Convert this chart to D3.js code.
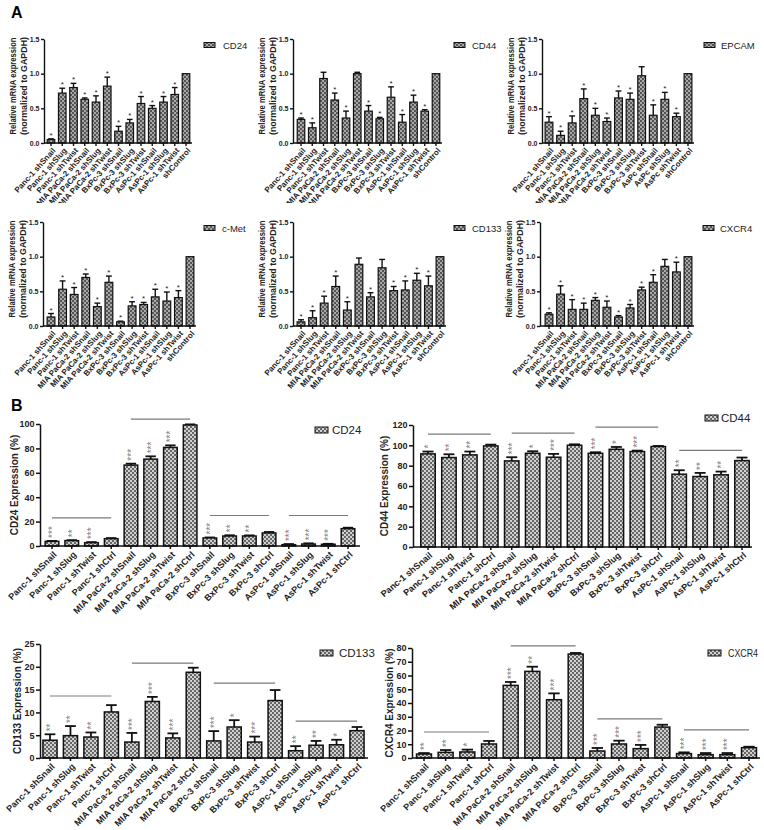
<!DOCTYPE html>
<html><head><meta charset="utf-8">
<script src="https://cdn.jsdelivr.net/npm/d3@7"></script>
<style>body{margin:0;background:#fff} svg{display:block}</style>
</head><body>
<svg id="c" width="764" height="830"></svg>
<script>
// ---------- DATA ----------
const labelsA = ["Panc-1 shSnail","Panc-1 shSlug","Panc-1 shTwist","MIA PaCa-2 shSnail","MIA PaCa-2 shSlug","MIA PaCa-2 shTwist","BxPc-3 shSnail","BxPc-3 shSlug","BxPc-3 shTwist","AsPc-1 shSnail","AsPc-1 shSlug","AsPc-1 shTwist","shControl"];
const labelsEpcam = ["Panc-1 shSnail","Panc-1 shSlug","Panc-1 shTwist","MIA PaCa-2 shSnail","MIA PaCa-2 shSlug","MIA PaCa-2 shTwist","BxPc-3 shSnail","BxPc-3 shSlug","BxPc-3 shTwist","AsPc shSnail","AsPc shSlug","AsPc shTwist","shControl"];
const ticksA = [0, 0.5, 1.0, 1.5];

const cd24A = [0.05,0.72,0.80,0.63,0.59,0.82,0.17,0.29,0.57,0.50,0.59,0.70,1.0];
const cd24ASd = [0.01,0.07,0.06,0.02,0.09,0.13,0.07,0.05,0.10,0.04,0.08,0.10,0];
const cd24AStar = ["*","*","*","*","*","*","*","*","*","*","*","*",""];

const cd44A = [0.34,0.22,0.93,0.62,0.36,1.0,0.46,0.35,0.66,0.30,0.59,0.46,1.0];
const cd44ASd = [0.02,0.07,0.09,0.10,0.10,0.02,0.08,0.02,0.15,0.11,0.10,0.02,0];
const cd44AStar = ["*","*","","*","*","","*","*","*","*","*","*",""];

const epcamA = [0.30,0.11,0.29,0.64,0.40,0.31,0.65,0.63,0.97,0.40,0.63,0.38,1.0];
const epcamASd = [0.08,0.06,0.10,0.14,0.10,0.05,0.10,0.09,0.13,0.15,0.10,0.05,0];
const epcamAStar = ["*","*","*","*","*","*","*","*","","*","*","*",""];

const cmetA = [0.13,0.53,0.455,0.70,0.28,0.63,0.06,0.29,0.31,0.42,0.36,0.41,1.0];
const cmetASd = [0.05,0.12,0.10,0.05,0.05,0.09,0.01,0.06,0.03,0.11,0.13,0.10,0];
const cmetAStar = ["*","*","*","*","*","*","*","*","*","*","*","*",""];

const cd133A = [0.06,0.12,0.33,0.57,0.23,0.89,0.42,0.84,0.51,0.52,0.66,0.58,1.0];
const cd133ASd = [0.03,0.10,0.10,0.15,0.12,0.09,0.06,0.12,0.06,0.13,0.10,0.14,0];
const cd133AStar = ["*","*","*","*","*","","*","","*","*","*","*",""];

const cxcr4A = [0.17,0.46,0.24,0.24,0.37,0.27,0.13,0.26,0.52,0.63,0.86,0.78,1.0];
const cxcr4ASd = [0.02,0.12,0.14,0.09,0.04,0.09,0.02,0.05,0.04,0.11,0.10,0.14,0];
const cxcr4AStar = ["*","*","*","*","*","*","*","*","*","*","","*",""];

const labelsB = ["Panc-1 shSnail","Panc-1 shSlug","Panc-1 shTwist","Panc-1 shCtrl","MIA PaCa-2 shSnail","MIA PaCa-2 shSlug","MIA PaCa-2 shTwist","MIA PaCa-2 shCtrl","BxPc-3 shSnail","BxPc-3 shSlug","BxPc-3 shTwist","BxPc-3 shCtrl","AsPc-1 shSnail","AsPc-1 shSlug","AsPc-1 shTwist","AsPc-1 shCtrl"];

const cd24B = [3.8,4.4,2.7,6.0,66.3,71.2,80.8,99.2,6.6,8.2,8.2,10.7,1.1,1.6,1.4,14.2];
const cd24BSd = [0.4,0.4,0.5,0.5,1.2,2.3,1.7,0.5,0.4,0.6,0.5,0.8,0.5,0.6,0.4,0.8];
const cd24BStar = ["***","**","***","","***","***","***","","***","**","**","","***","***","***",""];
const cd24BSig = [23,104,25,25];

const cd44B = [91.6,88,90.6,99.4,84.7,92.2,88.3,100.1,92.2,96.1,93.9,98.8,71.6,69.3,71,85];
const cd44BSd = [2.3,3.2,3.3,1.3,3.6,2.0,3.3,0.9,1.0,2.3,0.9,0.6,3.9,3.6,3.2,3.0];
const cd44BStar = ["*","**","**","","***","*","***","","***","*","***","","**","**","**",""];
const cd44BSig = [111,112,118,95];

const cd133B = [3.9,4.9,4.6,10.1,3.5,12.4,4.4,18.8,3.75,6.8,3.5,12.6,1.6,2.8,2.9,6.0];
const cd133BSd = [1.3,2.1,1.0,1.5,2.0,1.0,1.0,1.0,2.15,1.5,1.2,2.3,1.0,0.95,1.1,0.8];
const cd133BStar = ["**","**","**","","***","***","***","","***","*","***","","**","**","*",""];
const cd133BSig = [13.6,20.8,16.4,8.1];

const cxcr4B = [2.9,4.1,4.4,10.2,52.8,63,42.4,75.6,5.1,10.2,6.8,22.5,3.2,2.4,2.4,7.5];
const cxcr4BSd = [0.7,1.7,1.7,2.2,2.5,3.4,4.6,0.8,2.2,2.4,2.7,1.7,0.9,1.2,1.2,0.7];
const cxcr4BStar = ["**","**","*","","***","**","***","","***","***","***","","***","***","***",""];
const cxcr4BSig = [18.9,81.5,28.4,20.4];

// ---------- DRAWING ----------
const FONT = "'Liberation Sans', Arial, Helvetica, sans-serif";
const svg = d3.select("#c");
const defs = svg.append("defs");
function pattern(id, dark, light) {
  const p = defs.append("pattern").attr("id", id).attr("width", 4).attr("height", 4).attr("patternUnits", "userSpaceOnUse");
  p.append("rect").attr("width", 4).attr("height", 4).attr("fill", light);
  p.append("rect").attr("width", 2).attr("height", 2).attr("fill", dark);
  p.append("rect").attr("x", 2).attr("y", 2).attr("width", 2).attr("height", 2).attr("fill", dark);
}
pattern("pA", "#555", "#a8a8a8");
pattern("pB", "#666", "#d0d0d0");

let clipN = 0;
function drawChart(c) {
  let g = svg.append("g").attr("font-family", FONT);
  if (c.clipBottom) {
    const id = "clip" + (clipN++);
    defs.append("clipPath").attr("id", id).append("rect").attr("x", c.clipLeft).attr("y", c.clipTop).attr("width", c.clipW).attr("height", c.clipBottom - c.clipTop);
    g.attr("clip-path", `url(#${id})`);
  }
  const n = c.labels.length;
  const step = (c.last - c.first) / (n - 1);
  const x = d3.scaleBand().domain(c.labels).range([c.first - step / 2, c.last + step / 2]).paddingInner(c.pad).paddingOuter(c.pad / 2);
  const y = d3.scaleLinear().domain([0, c.max]).range([c.base, c.top]);
  const bw = x.bandwidth();

  if (c.sig) {
    c.sig.forEach((v, k) => {
      g.append("line").attr("x1", x(c.labels[k * 4]) + bw / 2).attr("x2", x(c.labels[k * 4 + 3]) + bw / 2)
        .attr("y1", y(v)).attr("y2", y(v)).attr("stroke", "#7a7a7a").attr("stroke-width", 1.2);
    });
  }

  const eb = g.append("g").attr("stroke", "#111").attr("stroke-width", c.ebStroke);
  c.labels.forEach((d, i) => {
    if (!c.sd[i]) return;
    const cx = x(d) + bw / 2;
    const yt = y(c.mean[i] + c.sd[i]);
    eb.append("line").attr("x1", cx).attr("x2", cx).attr("y1", y(c.mean[i])).attr("y2", yt);
    eb.append("line").attr("x1", cx - bw * 0.38).attr("x2", cx + bw * 0.38).attr("y1", yt).attr("y2", yt);
  });

  g.append("g").selectAll("rect").data(c.labels).join("rect")
    .attr("x", d => x(d)).attr("y", (d, i) => y(c.mean[i]))
    .attr("width", bw).attr("height", (d, i) => y(0) - y(c.mean[i]))
    .attr("fill", `url(#${c.pattern})`).attr("stroke", "#111").attr("stroke-width", c.barStroke);

  c.labels.forEach((d, i) => {
    if (!c.stars[i]) return;
    const cx = x(d) + bw / 2;
    const yt = y(c.mean[i] + c.sd[i]);
    if (c.starRot) {
      g.append("text").attr("transform", `translate(${cx + 4},${yt - 3}) rotate(-90)`)
        .attr("font-size", 10).attr("fill", "#808080").text(c.stars[i]);
    } else {
      g.append("text").attr("x", cx).attr("y", yt - 1).attr("text-anchor", "middle")
        .attr("font-size", 8).attr("fill", "#222").text(c.stars[i]);
    }
  });

  const ya = d3.axisLeft(y).tickValues(c.ticks).tickFormat(d3.format(c.fmt)).tickSize(c.yTickLen).tickSizeOuter(0);
  const yg = g.append("g").attr("transform", `translate(${c.axisX},0)`).call(ya);
  yg.attr("font-family", FONT);
  yg.select(".domain").attr("stroke", "#111").attr("stroke-width", c.axisStroke);
  yg.selectAll(".tick line").attr("stroke", "#111").attr("stroke-width", c.axisStroke);
  yg.selectAll(".tick text").attr("font-size", c.yTickFont).attr("font-weight", "bold").attr("fill", "#222").attr("x", -c.yTickLen - 1.5);

  const xa = d3.axisBottom(x).tickSize(3).tickSizeOuter(0);
  const xg = g.append("g").attr("transform", `translate(0,${c.base})`).call(xa);
  xg.attr("font-family", FONT);
  xg.select(".domain").remove();
  xg.append("line").attr("x1", c.axisX).attr("x2", c.xEnd).attr("stroke", "#111").attr("stroke-width", c.axisStroke);
  xg.selectAll(".tick line").attr("stroke", "#111").attr("stroke-width", c.axisStroke);
  xg.selectAll(".tick text").attr("x", 0).attr("y", 0).attr("dy", "0.35em")
    .attr("transform", `translate(${c.lblDx},${c.lblDy}) rotate(${-c.angle})`)
    .style("text-anchor", "end").attr("font-size", c.xFont).attr("font-weight", "bold").attr("fill", "#222");

  const yc = (c.top + c.base) / 2 + c.titleDy;
  c.title.forEach((t, k) => {
    const tt = g.append("text").attr("transform", `translate(${c.titleX[k]},${yc}) rotate(-90)`)
      .attr("text-anchor", "middle").attr("dominant-baseline", "central")
      .attr("font-size", c.titleFont).attr("font-weight", "bold").attr("fill", "#222").text(t);
    if (c.titleLen) tt.attr("textLength", c.titleLen[k]).attr("lengthAdjust", "spacingAndGlyphs");
  });

  svg.append("rect").attr("x", c.legX).attr("y", c.legY - c.legH / 2).attr("width", c.legW).attr("height", c.legH)
    .attr("fill", `url(#${c.pattern})`).attr("stroke", "#111").attr("stroke-width", 1);
  const lt = svg.append("text").attr("x", c.legTextX).attr("y", c.legY).attr("dominant-baseline", "central")
    .attr("font-family", FONT).attr("font-size", c.legFont).attr("fill", "#222").text(c.name);
  if (c.legLen) lt.attr("textLength", c.legLen).attr("lengthAdjust", "spacingAndGlyphs");
}

const baseA = {pad: 0.33, max: 1.5, ticks: ticksA, fmt: ".1f", pattern: "pA", barStroke: 1.2, ebStroke: 1.4,
  axisStroke: 1.4, yTickLen: 3, yTickFont: 7, xFont: 8, lblDx: 3, lblDy: 6, angle: 48, starRot: false,
  title: ["Relative mRNA expression", "(normalized to GAPDH)"], titleFont: 8.5, titleLen: [97, 98], titleDy: -5,
  legW: 11, legH: 5, legFont: 9.5};

function colA(axisX, first, last, legX, legTextX) {
  return {axisX, first, last, xEnd: last + 6, legX, legTextX, titleX: [axisX - 31, axisX - 20.5]};
}
const row1 = {top: 39, base: 143, legY: 45, clipBottom: 203, clipTop: 0, clipLeft: 0, clipW: 764};
const row2 = {top: 222, base: 326, legY: 228};

drawChart(Object.assign({}, baseA, row1, colA(44, 51, 186, 204, 223), {name: "CD24", labels: labelsA, mean: cd24A, sd: cd24ASd, stars: cd24AStar}));
drawChart(Object.assign({}, baseA, row1, colA(293, 301, 436, 454, 472), {name: "CD44", labels: labelsA, mean: cd44A, sd: cd44ASd, stars: cd44AStar}));
drawChart(Object.assign({}, baseA, row1, colA(542, 549, 688, 704, 721), {name: "EPCAM", labels: labelsEpcam, mean: epcamA, sd: epcamASd, stars: epcamAStar}));
drawChart(Object.assign({}, baseA, row2, colA(43, 51, 190, 204, 222), {name: "c-Met", labels: labelsA, mean: cmetA, sd: cmetASd, stars: cmetAStar}));
drawChart(Object.assign({}, baseA, row2, colA(293, 301, 440, 454, 472), {name: "CD133", labels: labelsA, mean: cd133A, sd: cd133ASd, stars: cd133AStar}));
drawChart(Object.assign({}, baseA, row2, colA(540, 549, 688, 703, 720), {name: "CXCR4", labels: labelsA, mean: cxcr4A, sd: cxcr4ASd, stars: cxcr4AStar}));

const baseB = {pad: 0.31, fmt: "d", pattern: "pB", barStroke: 1.5, ebStroke: 1.8, axisStroke: 1.5, yTickLen: 4,
  yTickFont: 9, xFont: 9, lblDx: 3, lblDy: 7, angle: 45, starRot: true,
  titleFont: 10, titleDy: 0, legW: 13, legH: 6, legFont: 11.5, labels: labelsB};

drawChart(Object.assign({}, baseB, {name: "CD24", mean: cd24B, sd: cd24BSd, stars: cd24BStar, sig: cd24BSig,
  max: 100, ticks: d3.range(0, 101, 20), top: 424, base: 546, axisX: 40, first: 52, last: 348, xEnd: 360,
  title: ["CD24 Expression (%)"], titleX: [14], legX: 315, legY: 430, legTextX: 332,
  clipBottom: 625, clipTop: 390, clipLeft: 0, clipW: 380}));
drawChart(Object.assign({}, baseB, {name: "CD44", mean: cd44B, sd: cd44BSd, stars: cd44BStar, sig: cd44BSig,
  max: 120, ticks: d3.range(0, 121, 20), top: 425, base: 547, axisX: 413, first: 428, last: 742, xEnd: 752,
  angle: 40, title: ["CD44 Expression (%)"], titleX: [384], legX: 705, legY: 418, legTextX: 721,
  clipBottom: 625, clipTop: 390, clipLeft: 370, clipW: 394}));
drawChart(Object.assign({}, baseB, {name: "CD133", mean: cd133B, sd: cd133BSd, stars: cd133BStar, sig: cd133BSig,
  max: 25, ticks: d3.range(0, 26, 5), top: 644, base: 758, axisX: 40, first: 50, last: 357, xEnd: 368,
  title: ["CD133 Expression (%)"], titleX: [17], legX: 320, legY: 653, legTextX: 339}));
drawChart(Object.assign({}, baseB, {name: "CXCR4", mean: cxcr4B, sd: cxcr4BSd, stars: cxcr4BStar, sig: cxcr4BSig,
  max: 80, ticks: d3.range(0, 81, 10), top: 648, base: 758, axisX: 412, first: 424, last: 749, xEnd: 760,
  title: ["CXCR4 Expression (%)"], titleX: [389], legX: 708, legY: 653, legTextX: 728, legFont: 10.5, legLen: 30}));

svg.append("text").attr("x", 11).attr("y", 18).attr("font-family", FONT).attr("font-size", 16).attr("font-weight", "bold").text("A");
svg.append("text").attr("x", 11).attr("y", 411).attr("font-family", FONT).attr("font-size", 16).attr("font-weight", "bold").text("B");
</script>
</body></html>
